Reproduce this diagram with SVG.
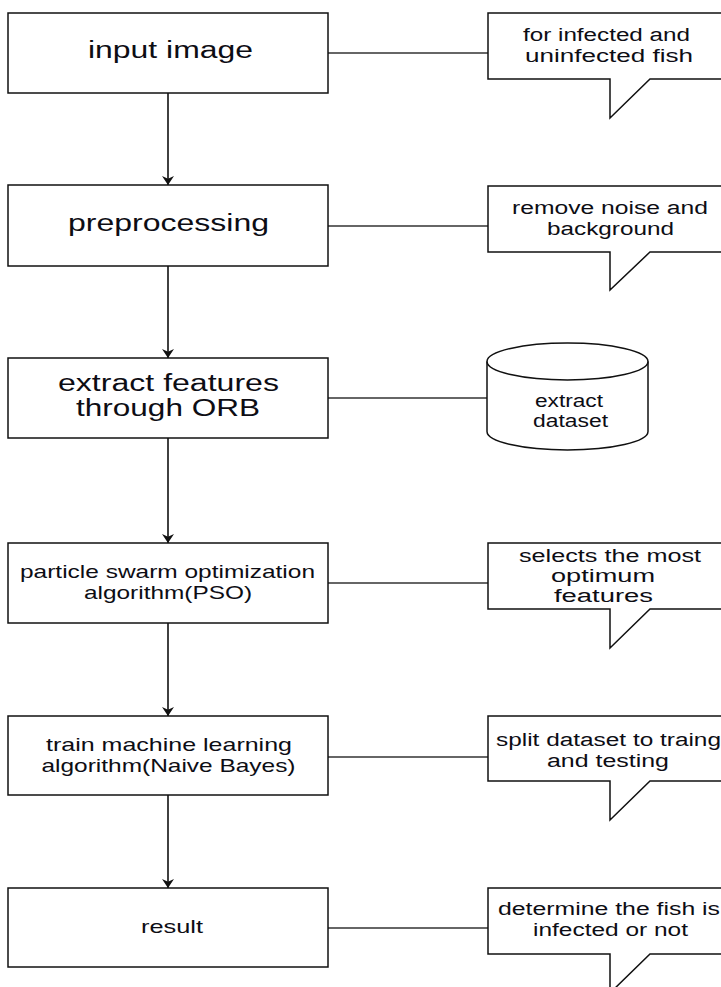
<svg xmlns="http://www.w3.org/2000/svg" width="721" height="987" viewBox="0 0 721 987">
<defs>
<style>
.box{fill:#fff;stroke:#111;stroke-width:1.5}
.call{fill:#fff;stroke:#111;stroke-width:1.5;stroke-linejoin:miter}
.link{stroke:#333;stroke-width:1.4;fill:none}
.flow{stroke:#111;stroke-width:1.6;fill:none;marker-end:url(#arr)}
text{font-family:"Liberation Sans",Arial,sans-serif;fill:#0d0d14}
.big{font-size:23px}
.mid{font-size:19px}
.sm{font-size:18px}
.cy{font-size:17.5px}
</style>
<marker id="arr" viewBox="0 0 10 10" refX="10" refY="5" markerWidth="9" markerHeight="12" markerUnits="userSpaceOnUse" orient="auto" preserveAspectRatio="none">
<path d="M0,0 L10,5 L0,10 L3,5 z" fill="#111"/>
</marker>
</defs>
<rect width="721" height="987" fill="#fff"/>

<g id="connectors">
<line class="flow" x1="168" y1="93" x2="168" y2="185"/>
<line class="flow" x1="168" y1="266" x2="168" y2="358"/>
<line class="flow" x1="168" y1="438" x2="168" y2="543"/>
<line class="flow" x1="168" y1="623" x2="168" y2="716"/>
<line class="flow" x1="168" y1="795" x2="168" y2="888"/>
<line class="link" x1="328" y1="53" x2="488" y2="53"/>
<line class="link" x1="328" y1="226" x2="488" y2="226"/>
<line class="link" x1="328" y1="398" x2="487" y2="398"/>
<line class="link" x1="328" y1="583" x2="488" y2="583"/>
<line class="link" x1="328" y1="757" x2="488" y2="757"/>
<line class="link" x1="328" y1="928" x2="488" y2="928"/>
</g>

<g id="input-image">
<rect class="box" x="8" y="13" width="320" height="80"/>
<text class="big" x="88" y="58" textLength="165" lengthAdjust="spacingAndGlyphs">input image</text>
</g>
<g id="note-input">
<path class="call" d="M488,13 H723 V79 H650 L610,118 V79 H488 Z"/>
<text class="sm" x="523" y="41" textLength="167" lengthAdjust="spacingAndGlyphs">for infected and</text>
<text class="sm" x="525" y="62" textLength="168" lengthAdjust="spacingAndGlyphs">uninfected fish</text>
</g>

<g id="preprocessing">
<rect class="box" x="8" y="185" width="320" height="81"/>
<text class="big" x="68" y="231" textLength="201" lengthAdjust="spacingAndGlyphs">preprocessing</text>
</g>
<g id="note-preprocessing">
<path class="call" d="M488,186 H723 V252 H650 L610,290 V252 H488 Z"/>
<text class="sm" x="512" y="214" textLength="196" lengthAdjust="spacingAndGlyphs">remove noise and</text>
<text class="sm" x="547" y="235" textLength="127" lengthAdjust="spacingAndGlyphs">background</text>
</g>

<g id="extract-features">
<rect class="box" x="8" y="358" width="320" height="80"/>
<text class="big" x="58" y="391" textLength="221" lengthAdjust="spacingAndGlyphs">extract features</text>
<text class="big" x="76" y="416" textLength="184" lengthAdjust="spacingAndGlyphs">through ORB</text>
</g>
<g id="dataset">
<path class="box" d="M487,361.5 A80.5,18.5 0 0 1 648,361.5 V431.5 A80.5,18.5 0 0 1 487,431.5 Z"/>
<path d="M487,361.5 A80.5,18.5 0 0 0 648,361.5" fill="none" stroke="#111" stroke-width="1.5"/>
<text class="cy" x="535" y="407" textLength="68" lengthAdjust="spacingAndGlyphs">extract</text>
<text class="cy" x="533" y="427" textLength="75" lengthAdjust="spacingAndGlyphs">dataset</text>
</g>

<g id="pso">
<rect class="box" x="8" y="543" width="320" height="80"/>
<text class="mid" x="20" y="578" textLength="295" lengthAdjust="spacingAndGlyphs">particle swarm optimization</text>
<text class="mid" x="84" y="599" textLength="168" lengthAdjust="spacingAndGlyphs">algorithm(PSO)</text>
</g>
<g id="note-pso">
<path class="call" d="M488,543 H723 V609 H650 L610,648 V609 H488 Z"/>
<text class="sm" x="519" y="561.5" textLength="182" lengthAdjust="spacingAndGlyphs">selects the most</text>
<text class="sm" x="551" y="581.5" textLength="104" lengthAdjust="spacingAndGlyphs">optimum</text>
<text class="sm" x="554" y="601.5" textLength="99" lengthAdjust="spacingAndGlyphs">features</text>
</g>

<g id="train">
<rect class="box" x="8" y="716" width="320" height="79"/>
<text class="mid" x="46" y="750.5" textLength="246" lengthAdjust="spacingAndGlyphs">train machine learning</text>
<text class="mid" x="41.5" y="771.5" textLength="254" lengthAdjust="spacingAndGlyphs">algorithm(Naive Bayes)</text>
</g>
<g id="note-train">
<path class="call" d="M488,716 H723 V781 H650 L610,820 V781 H488 Z"/>
<text class="sm" x="496" y="746" textLength="225" lengthAdjust="spacingAndGlyphs">split dataset to traing</text>
<text class="sm" x="547" y="767" textLength="122" lengthAdjust="spacingAndGlyphs">and testing</text>
</g>

<g id="result">
<rect class="box" x="8" y="888" width="320" height="79"/>
<text class="mid" x="141" y="933" textLength="62" lengthAdjust="spacingAndGlyphs">result</text>
</g>
<g id="note-result">
<path class="call" d="M488,888 H723 V954 H650 L610,993 V954 H488 Z"/>
<text class="sm" x="498" y="915" textLength="222" lengthAdjust="spacingAndGlyphs">determine the fish is</text>
<text class="sm" x="533" y="936" textLength="155" lengthAdjust="spacingAndGlyphs">infected or not</text>
</g>
</svg>
